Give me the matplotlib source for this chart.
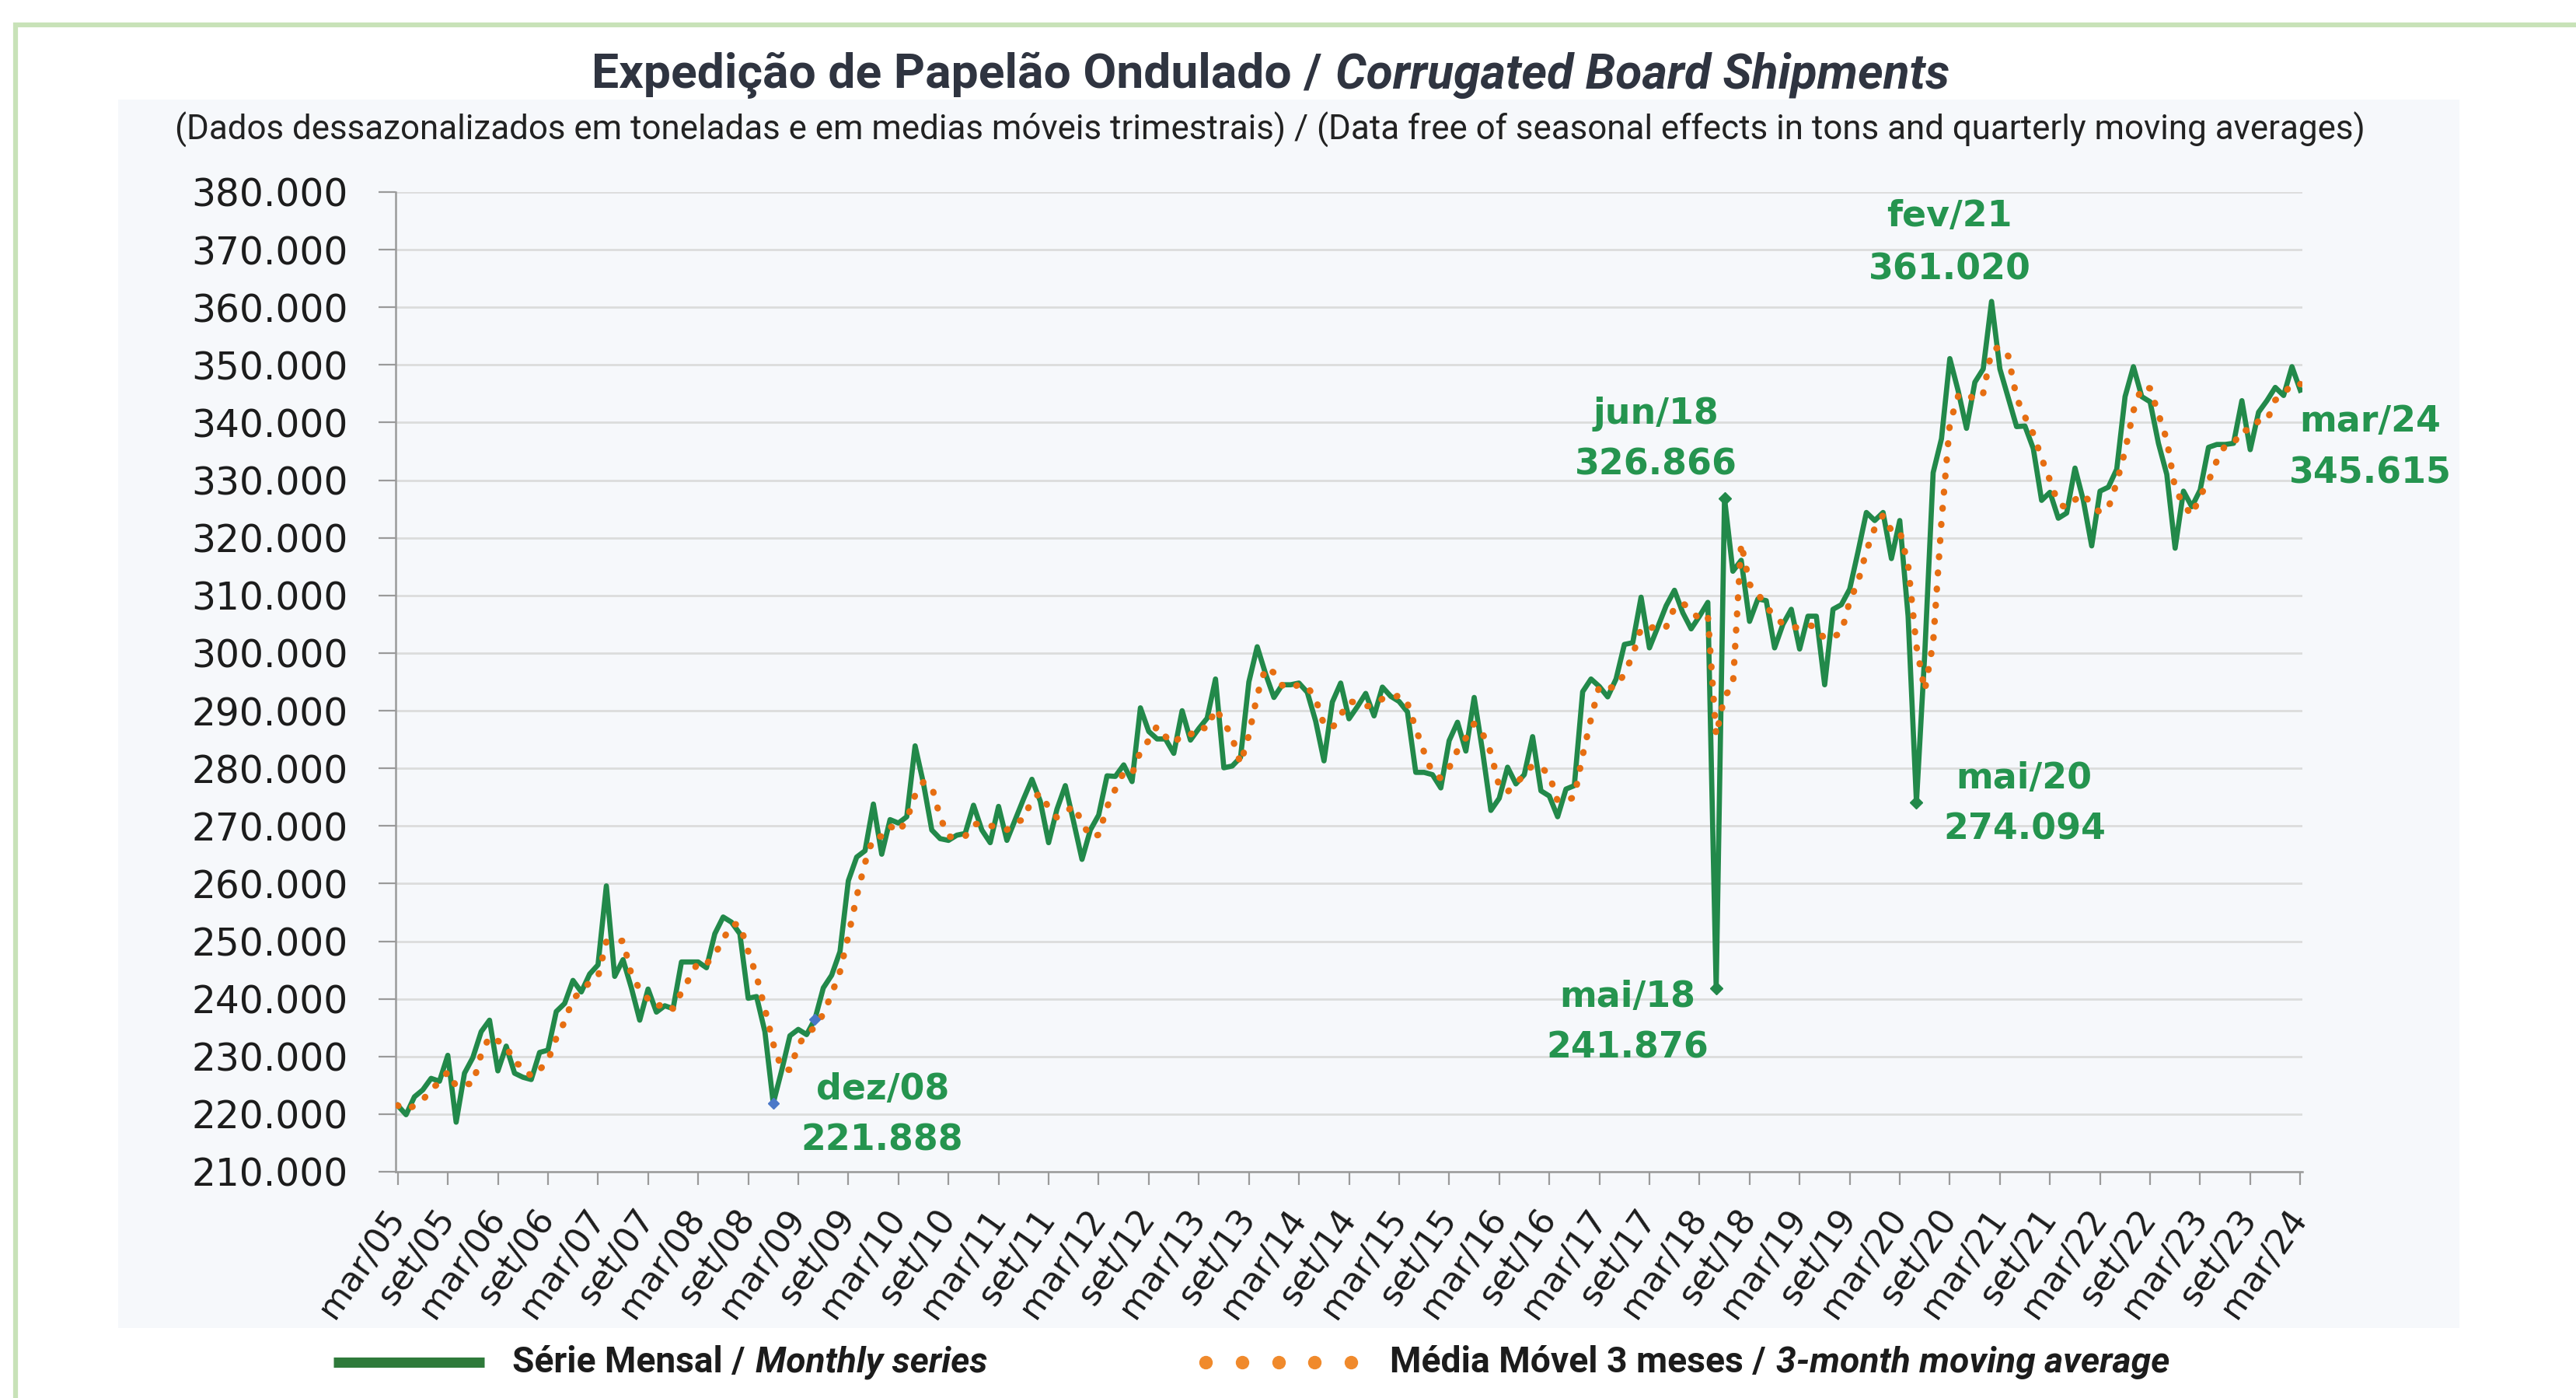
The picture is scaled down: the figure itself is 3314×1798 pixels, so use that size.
import matplotlib
matplotlib.use("Agg")
import matplotlib.pyplot as plt
import numpy as np
import pandas as pd
from matplotlib.lines import Line2D
from matplotlib.patches import Rectangle
from matplotlib.ticker import FuncFormatter, MultipleLocator

# monthly shipments in thousand tons, mar/05 .. mar/24, 12 months per row
monthly_k = [
    221.5, 219.9, 223.0, 224.2, 226.2, 225.7, 230.2, 218.6, 227.1, 229.8, 234.3, 236.3,
    227.5, 231.8, 227.1, 226.4, 226.0, 230.7, 231.1, 237.8, 239.2, 243.2, 241.2, 244.3,
    245.9, 259.6, 243.9, 246.8, 241.9, 236.3, 241.7, 237.7, 238.8, 238.3, 246.4, 246.4,
    246.4, 245.4, 251.3, 254.2, 253.3, 251.3, 240.1, 240.4, 234.3, 221.888, 227.5, 233.6,
    234.7, 233.8, 236.5, 241.9, 244.1, 248.2, 260.5, 264.6, 265.7, 273.8, 265.1, 271.1,
    270.5, 271.6, 283.9, 277.4, 269.3, 267.8, 267.5, 268.4, 268.7, 273.6, 269.3, 267.1,
    273.4, 267.5, 271.1, 274.7, 278.1, 274.3, 267.1, 272.9, 277.0, 270.7, 264.2, 269.3,
    271.9, 278.7, 278.6, 280.6, 277.7, 290.5, 286.4, 285.1, 285.1, 282.6, 290.0, 284.9,
    286.9, 288.7, 295.5, 280.1, 280.4, 281.9, 295.0, 301.1, 296.4, 292.3, 294.5, 294.5,
    294.8, 293.2, 288.2, 281.3, 291.5, 294.8, 288.6, 290.7, 293.0, 289.1, 294.1, 292.5,
    291.6, 289.8, 279.3, 279.3, 278.9, 276.6, 284.8, 288.0, 283.0, 292.3, 283.0, 272.7,
    274.8, 280.2, 277.3, 278.9, 285.5, 276.1, 275.2, 271.6, 276.4, 277.0, 293.3, 295.5,
    294.2, 292.4, 295.5, 301.5, 301.8, 309.7, 300.9, 304.5, 308.2, 310.9, 307.0, 304.2,
    306.4, 308.8, 241.876, 326.866, 314.2, 316.1, 305.5, 309.4, 309.1, 300.9, 305.0, 307.6,
    300.7, 306.4, 306.4, 294.5, 307.6, 308.4, 311.1, 317.6, 324.4, 323.0, 324.4, 316.4,
    323.0, 306.4, 274.094, 300.0, 331.3, 337.2, 351.1, 345.5, 339.0, 347.0, 349.3, 361.020,
    349.3, 344.3, 339.3, 339.4, 335.5, 326.5, 327.9, 323.4, 324.3, 332.1, 326.5, 318.6,
    328.1, 328.8, 331.9, 344.5, 349.7, 344.5, 343.6, 336.4, 331.0, 318.2, 328.1, 325.4,
    328.3, 335.7, 336.2, 336.2, 336.4, 343.8, 335.3, 341.8, 343.8, 346.1, 344.7, 349.7,
    345.615,
]

month_names = ["jan", "fev", "mar", "abr", "mai", "jun",
               "jul", "ago", "set", "out", "nov", "dez"]
first_year = 2005
first_month = 3

highlight = ["dez/08", "mai/18", "jun/18", "mai/20", "fev/21", "mar/24"]
green_marks = ["mai/18", "jun/18", "mai/20"]
blue_marks = ["dez/08", "mai/09"]

# label placement relative to the point, in pixels: (name offset, value offset)
label_offsets = {
    "dez/08": ((141, 17), (140, -48)),
    "mai/18": ((-114, -12), (-114, -77)),
    "jun/18": ((-88, 108), (-88, 43)),
    "mai/20": ((138, 30), (139, -35)),
    "fev/21": ((-54, 109), (-54, 41)),
    "mar/24": ((90, -41), (90, -107)),
}

GREEN = "#22894a"
LABEL_GREEN = "#25944f"
ORANGE = "#e66e12"
NARROW = ["Liberation Sans Narrow", "Roboto"]

monthly = np.array(monthly_k) * 1000
n = len(monthly)
idx = np.arange(n)
month_labels = []
for i in idx:
    k = first_month - 1 + i
    month_labels.append("%s/%02d" % (month_names[k % 12], (first_year + k // 12) % 100))
moving_avg = pd.Series(monthly).rolling(3, min_periods=1).mean()

W, H = 3314, 1798
fig = plt.figure(figsize=(W / 100, H / 100), dpi=100)
fig.patch.set_facecolor("white")


def fx(x):
    return x / W


def fy(y):
    return 1 - y / H


# light panel behind the chart and the green frame (cut by the image edges)
fig.add_artist(Rectangle((fx(152), fy(1708)), fx(3164) - fx(152), fy(128) - fy(1708),
                         transform=fig.transFigure, facecolor="#f6f8fb",
                         edgecolor="none", zorder=0))
fig.add_artist(Rectangle((fx(20), fy(1900)), fx(3500) - fx(20), fy(32) - fy(1900),
                         transform=fig.transFigure, facecolor="none",
                         edgecolor="#c8e2b8", lw=4.5, zorder=0))

ax = fig.add_axes([fx(509), fy(1507), fx(2962) - fx(509), fy(247) - fy(1507)])
ax.set_facecolor("none")

ax.plot(idx, monthly, color=GREEN, lw=4.8, zorder=3)
ax.plot(idx, moving_avg, color=ORANGE, lw=6, linestyle=(0, (0.1, 2.4)),
        dash_capstyle="round", zorder=4)

for name in green_marks:
    i = month_labels.index(name)
    ax.plot(i, monthly[i], marker="D", ms=8, color=GREEN, zorder=5)
for name in blue_marks:
    i = month_labels.index(name)
    ax.plot(i, monthly[i], marker="D", ms=7, color="#4a78c8", zorder=5)

for name in highlight:
    i = month_labels.index(name)
    val = "{:,.0f}".format(monthly[i]).replace(",", ".")
    off_name, off_val = label_offsets[name]
    for txt, off in ((name, off_name), (val, off_val)):
        ax.annotate(txt, xy=(i, monthly[i]), xytext=off, textcoords="offset pixels",
                    ha="center", va="center", fontsize=33, fontweight="bold",
                    color=LABEL_GREEN, annotation_clip=False, zorder=6)

ax.set_xlim(-0.25, n - 0.75)
ax.set_ylim(210000, 380000)
ax.yaxis.set_major_locator(MultipleLocator(10000))
ax.yaxis.set_major_formatter(FuncFormatter(lambda v, p: "{:,.0f}".format(v).replace(",", ".")))
ax.set_xticks(idx[::6])
ax.set_xticklabels(month_labels[::6])
ax.yaxis.grid(True, color="#dcdcdc", lw=2)
ax.set_axisbelow(True)
for s in ["top", "right"]:
    ax.spines[s].set_visible(False)
for s in ["left", "bottom"]:
    ax.spines[s].set_color("#9a9a9a")
    ax.spines[s].set_linewidth(1.8)
ax.tick_params(axis="y", length=16, width=1.6, color="#9a9a9a", pad=28,
               labelsize=35, labelcolor="#1c1c1c")
ax.tick_params(axis="x", length=12, width=1.6, color="#9a9a9a", pad=26,
               labelsize=32, labelcolor="#1c1c1c")
plt.setp(ax.get_xticklabels(), rotation=55, ha="right", va="center",
         rotation_mode="anchor")


def put_runs(runs, y, size, width, left=None, center=None, color="#1c1c1c"):
    # lay text pieces with different styles side by side, scaled to a width
    texts = [fig.text(0, fy(y), s, fontsize=size, va="center", ha="left",
                      color=color, family=NARROW, **style) for s, style in runs]
    fig.canvas.draw()
    r = fig.canvas.get_renderer()
    w = [t.get_window_extent(r).width for t in texts]
    gap = 0.28 * size * 100 / 72
    scale = width / (sum(w) + gap * (len(w) - 1))
    x0 = center - width / 2 if left is None else left
    for t, wi in zip(texts, w):
        t.set_fontsize(size * scale)
        t.set_x(fx(x0))
        x0 += (wi + gap) * scale


put_runs([("Expedição de Papelão Ondulado /", {"weight": "bold"}),
          ("Corrugated Board Shipments", {"weight": "bold", "style": "italic"})],
         97, 42, 1748, center=1635, color="#2f3440")
put_runs([("(Dados dessazonalizados em toneladas e em medias móveis trimestrais) / "
           "(Data free of seasonal effects in tons and quarterly moving averages)", {})],
         167, 30, 2813, center=1632, color="#222222")

# legend row
fig.add_artist(Line2D([fx(429), fx(623)], [fy(1752), fy(1752)], transform=fig.transFigure,
                      color="#2e7a3a", lw=9.5, solid_capstyle="butt"))
fig.add_artist(Line2D(np.linspace(fx(1551), fx(1738), 5), [fy(1752)] * 5,
                      transform=fig.transFigure, linestyle="none", marker="o",
                      ms=11.5, color="#f08a2c"))
put_runs([("Série Mensal /", {"weight": "bold"}),
          ("Monthly series", {"weight": "bold", "style": "italic"})],
         1752, 32, 611, left=659)
put_runs([("Média Móvel 3 meses /", {"weight": "bold"}),
          ("3-month moving average", {"weight": "bold", "style": "italic"})],
         1752, 32, 1004, left=1788)

fig.savefig("out.png", dpi=100)
